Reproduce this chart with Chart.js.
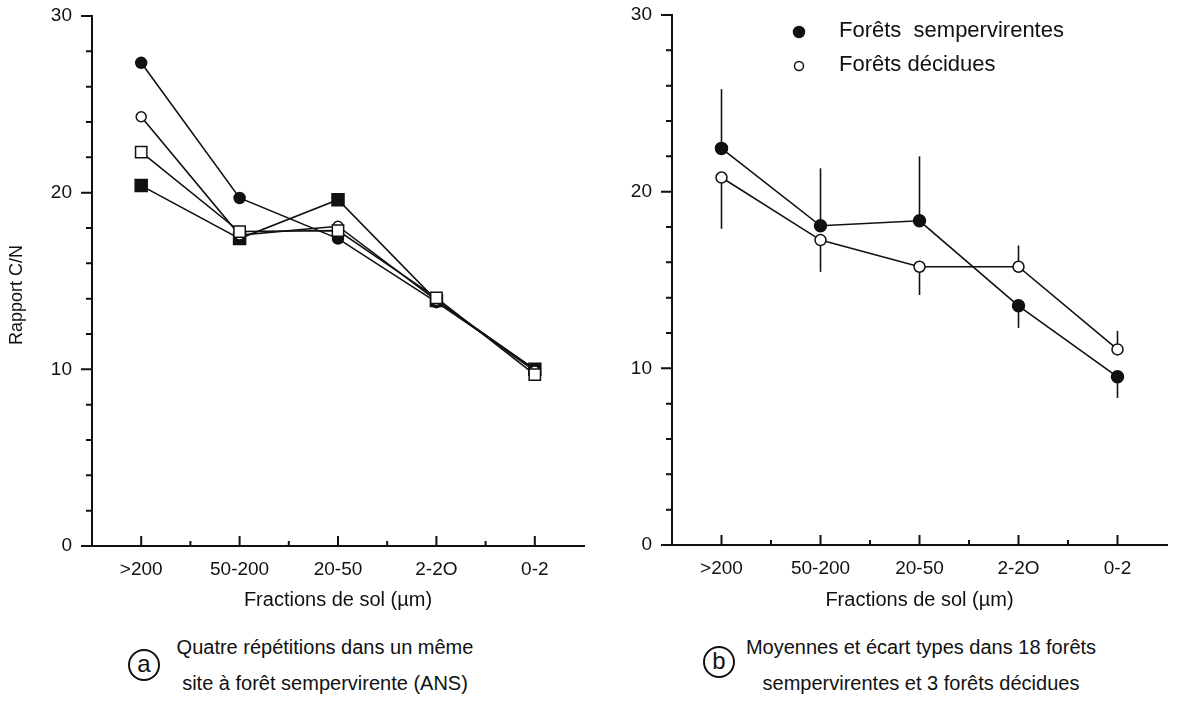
<!DOCTYPE html>
<html>
<head>
<meta charset="utf-8">
<script src="https://cdn.jsdelivr.net/npm/chart.js@4.4.0/dist/chart.umd.min.js"></script>
<style>
  body { margin: 0; background: #fff; }
  #wrap { position: relative; width: 1178px; height: 707px; overflow: hidden; font-family: "Liberation Sans", Arial, sans-serif; color: #111; }
  #boxA { position: absolute; left: 0; top: 0; width: 598px; height: 620px; }
  #boxB { position: absolute; left: 580px; top: 0; width: 598px; height: 620px; }
  .cap { position: absolute; text-align: center; font-size: 20px; line-height: 36px; white-space: nowrap; }
  .letter { position: absolute; width: 28px; height: 28px; border: 2px solid #111; border-radius: 50%; text-align: center; line-height: 25px; font-size: 24px; }
</style>
</head>
<body>
<div id="wrap">
  <div id="boxA"><canvas id="chartA"></canvas></div>
  <div id="boxB"><canvas id="chartB"></canvas></div>
  <div class="letter" style="left:128px; top:649px;">a</div>
  <div class="cap" style="left:125px; top:629px; width:400px;">Quatre répétitions dans un même<br>site à forêt sempervirente (ANS)</div>
  <div class="letter" style="left:703px; top:646px;">b</div>
  <div class="cap" style="left:691px; top:629px; width:460px;">Moyennes et écart types dans 18 forêts<br>sempervirentes et 3 forêts décidues</div>
</div>
<script>
// categories (soil fractions, µm)
const categories = ['>200', '50-200', '20-50', '2-2O', '0-2'];
const yMin = 0, yMax = 30, yMajorStep = 10, yMinorStep = 2;
const yTitleText = 'Rapport C/N';

// (a) four replicates, same evergreen forest site (ANS)
const repFilledCircle = [27.35, 19.7, 17.4, 13.8, 10.0];
const repOpenCircle   = [24.3, 17.6, 18.1, 13.9, 9.9];
const repOpenSquare   = [22.3, 17.8, 17.85, 14.05, 9.7];
const repFilledSquare = [20.4, 17.4, 19.6, 13.9, 10.0];

// (b) means and standard deviations
const semperMean = [22.45, 18.07, 18.35, 13.54, 9.52];
const semperUp   = [3.35, 3.25, 3.65, 0, 0];
const semperDown = [0, 0, 0, 1.25, 1.2];
const decidMean  = [20.8, 17.26, 15.75, 15.75, 11.07];
const decidUp    = [0, 0, 0, 1.2, 1.05];
const decidDown  = [2.9, 1.8, 1.6, 0, 0];

const INK = '#111';
const FONT = '"Liberation Sans", Arial, sans-serif';

// tick marks: y outside (left), x inside (up)
const axisTicks = {
  id: 'axisTicks',
  afterDraw(chart) {
    const ctx = chart.ctx, x = chart.scales.x, y = chart.scales.y;
    ctx.save();
    ctx.strokeStyle = INK;
    ctx.lineWidth = 2;
    ctx.beginPath();
    for (let v = yMin; v <= yMax; v += yMinorStep) {
      const py = y.getPixelForValue(v);
      const len = v % yMajorStep === 0 ? 11 : 6;
      ctx.moveTo(x.left - len, py);
      ctx.lineTo(x.left, py);
    }
    categories.forEach((c, i) => {
      const px = x.getPixelForValue(i);
      ctx.moveTo(px, y.bottom);
      ctx.lineTo(px, y.bottom - 10);
      if (i > 0) {
        const mx = (px + x.getPixelForValue(i - 1)) / 2;
        ctx.moveTo(mx, y.bottom);
        ctx.lineTo(mx, y.bottom - 5);
      }
    });
    ctx.stroke();
    ctx.restore();
  }
};

// y title drawn a little below the axis centre, as in the print
const yTitle = {
  id: 'yTitle',
  afterDraw(chart) {
    const ctx = chart.ctx, a = chart.chartArea;
    ctx.save();
    ctx.translate(17, (a.top + a.bottom) / 2 + 14);
    ctx.rotate(-Math.PI / 2);
    ctx.font = '18px ' + FONT;
    ctx.fillStyle = INK;
    ctx.textAlign = 'center';
    ctx.textBaseline = 'middle';
    ctx.fillText(yTitleText, 0, 0);
    ctx.restore();
  }
};

// one-sided error bars for panel b
const errorBars = {
  id: 'errorBars',
  beforeDatasetsDraw(chart) {
    const ctx = chart.ctx, x = chart.scales.x, y = chart.scales.y;
    ctx.save();
    ctx.strokeStyle = INK;
    ctx.lineWidth = 1.6;
    chart.data.datasets.forEach(ds => {
      if (!ds.errUp) return;
      ds.data.forEach((v, i) => {
        const px = x.getPixelForValue(i);
        ctx.beginPath();
        ctx.moveTo(px, y.getPixelForValue(v + ds.errUp[i]));
        ctx.lineTo(px, y.getPixelForValue(v - ds.errDown[i]));
        ctx.stroke();
      });
    });
    ctx.restore();
  }
};

// legend inside the plot of panel b
const innerLegend = {
  id: 'innerLegend',
  afterDraw(chart) {
    const ctx = chart.ctx, a = chart.chartArea;
    ctx.save();
    ctx.font = '22px ' + FONT;
    ctx.textBaseline = 'middle';
    chart.data.datasets.forEach((ds, i) => {
      const cy = a.top + 17 + i * 34;
      ctx.beginPath();
      ctx.arc(a.left + 127, cy, i === 0 ? 5.5 : 4.5, 0, Math.PI * 2);
      ctx.fillStyle = ds.pointBackgroundColor;
      ctx.fill();
      ctx.lineWidth = 1.5;
      ctx.strokeStyle = INK;
      ctx.stroke();
      ctx.fillStyle = INK;
      ctx.fillText(ds.label, a.left + 167, cy - 1);
    });
    ctx.restore();
  }
};

function lineSet(label, data, style, fill, radius, extra) {
  return Object.assign({
    label: label,
    data: data,
    borderColor: INK,
    borderWidth: 1.6,
    tension: 0,
    pointStyle: style,
    pointRadius: radius,
    pointBackgroundColor: fill,
    pointBorderColor: INK,
    pointBorderWidth: 1.5
  }, extra || {});
}

function makeOptions(padTop, padRight, xHeight) {
  return {
    responsive: true,
    maintainAspectRatio: false,
    animation: false,
    layout: { padding: { top: padTop, right: padRight, bottom: 0, left: 0 } },
    plugins: { legend: { display: false }, tooltip: { enabled: false } },
    scales: {
      x: {
        type: 'category',
        offset: true,
        grid: { display: false, drawTicks: false },
        border: { display: true, color: INK, width: 2 },
        ticks: { color: INK, font: { family: FONT, size: 19 }, padding: 12, maxRotation: 0 },
        title: { display: true, text: 'Fractions de sol (µm)', color: INK, font: { family: FONT, size: 20 }, padding: { top: 0, bottom: 8 } },
        afterFit: s => { s.height = xHeight; }
      },
      y: {
        min: yMin,
        max: yMax,
        grid: { display: false, drawTicks: false },
        border: { display: true, color: INK, width: 2 },
        ticks: { stepSize: yMajorStep, color: INK, font: { family: FONT, size: 19 }, padding: 20 },
        afterFit: s => { s.width = 92; s.paddingTop = 0; s.paddingBottom = 0; }
      }
    }
  };
}

new Chart(document.getElementById('chartA'), {
  type: 'line',
  data: {
    labels: categories,
    datasets: [
      lineSet('carré vide', repOpenSquare, 'rect', '#fff', 8, { order: 0 }),
      lineSet('cercle vide', repOpenCircle, 'circle', '#fff', 5, { order: 1 }),
      lineSet('carré plein', repFilledSquare, 'rect', INK, 8.5, { order: 2 }),
      lineSet('cercle plein', repFilledCircle, 'circle', INK, 5.5, { order: 3 })
    ]
  },
  options: makeOptions(16, 14, 74),
  plugins: [axisTicks, yTitle]
});

new Chart(document.getElementById('chartB'), {
  type: 'line',
  data: {
    labels: categories,
    datasets: [
      lineSet('Forêts  sempervirentes', semperMean, 'circle', INK, 6, { errUp: semperUp, errDown: semperDown }),
      lineSet('Forêts décidues', decidMean, 'circle', '#fff', 5.5, { errUp: decidUp, errDown: decidDown })
    ]
  },
  options: makeOptions(15, 11, 75),
  plugins: [axisTicks, errorBars, innerLegend]
});
</script>
</body>
</html>
